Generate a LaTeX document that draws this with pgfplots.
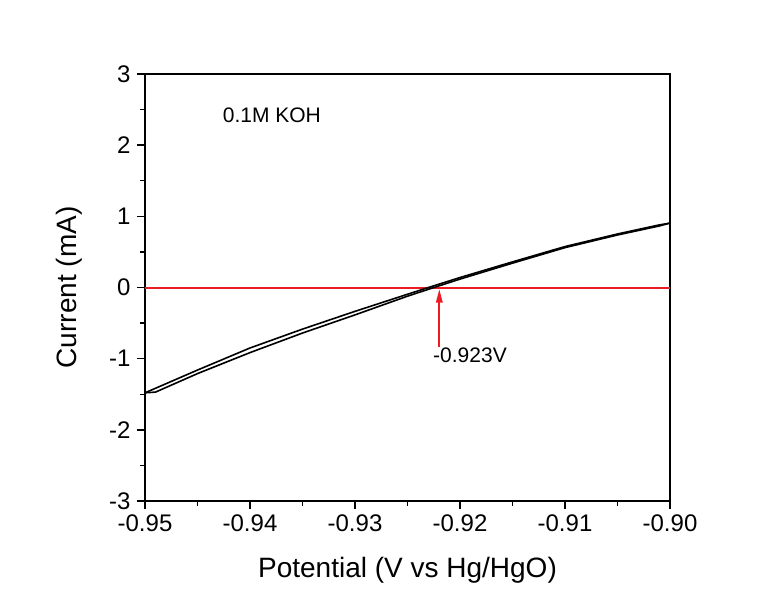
\documentclass[border=0pt]{standalone}
\usepackage{fontspec}
\setmainfont{Liberation Sans}
\usepackage{pgfplots}
\pgfplotsset{compat=1.18}
\usetikzlibrary{arrows.meta}
\definecolor{refred}{RGB}{237,28,36}
\begin{document}
\begin{tikzpicture}
\begin{axis}[
  name=ax,
  scale only axis, width=525pt, height=427pt,
  xmin=-0.95, xmax=-0.90, ymin=-3, ymax=3,
  axis line style={line width=1.4pt},
  tick pos=left, tick align=outside,
  major tick length=8pt, minor tick length=5pt,
  every tick/.style={line width=1.4pt, black},
  xtick={-0.95,-0.94,-0.93,-0.92,-0.91,-0.90},
  xticklabels={-0.95,-0.94,-0.93,-0.92,-0.91,-0.90},
  ytick={-3,-2,-1,0,1,2,3},
  yticklabels={-3,-2,-1,0,1,2,3},
  minor x tick num=1, minor y tick num=1,
  tick label style={font=\fontsize{24}{26}\selectfont},
  xticklabel style={yshift=-2pt},
  yticklabel style={xshift=-3pt},
  xlabel={Potential (V vs Hg/HgO)},
  ylabel={Current (mA)},
  label style={font=\fontsize{28}{30}\selectfont},
  xlabel style={at={(axis description cs:0.5,0)}, anchor=base, yshift=-77pt},
  ylabel style={at={(axis description cs:0,0.5)}, anchor=base, yshift=68pt},
  clip=false,
]
% zero-current reference line
\addplot[draw=refred, line width=1.7pt] coordinates {(-0.95,-0.005) (-0.90,-0.005)};
% forward sweep
\addplot[black, line width=1.6pt] coordinates {
(-0.950,-1.48) (-0.945,-1.16) (-0.940,-0.850) (-0.935,-0.585) (-0.930,-0.335)
(-0.925,-0.095) (-0.923,0.000) (-0.920,0.140) (-0.915,0.360) (-0.910,0.575)
(-0.905,0.752) (-0.901,0.880) (-0.900,0.905)};
% reverse sweep
\addplot[black, line width=1.6pt] coordinates {
(-0.900,0.905) (-0.901,0.865) (-0.905,0.738) (-0.910,0.560) (-0.915,0.342)
(-0.920,0.118) (-0.923,-0.025) (-0.925,-0.122) (-0.930,-0.385) (-0.935,-0.640)
(-0.940,-0.915) (-0.945,-1.210) (-0.949,-1.470) (-0.950,-1.48)};
% marker for the onset potential
\draw[draw=refred, line width=2pt]
  (axis cs:-0.92197,-0.84) -- (axis cs:-0.92197,-0.15);
\fill[refred] (axis cs:-0.92197,-0.03) -- ++(-3.5pt,-13pt) -- ++(7pt,0pt) -- cycle;
\node[anchor=base west, font=\fontsize{21}{24}\selectfont, inner sep=0pt]
  at (axis cs:-0.92257,-1.06) {-0.923V};
\node[anchor=base west, font=\fontsize{21}{24}\selectfont, inner sep=0pt]
  at (axis cs:-0.9426,2.324) {0.1M KOH};
\end{axis}
% page margins around the axis box
\useasboundingbox ([shift={(-145pt,-93pt)}]ax.south west)
  rectangle ([shift={(93pt,74pt)}]ax.north east);
\end{tikzpicture}
\end{document}
